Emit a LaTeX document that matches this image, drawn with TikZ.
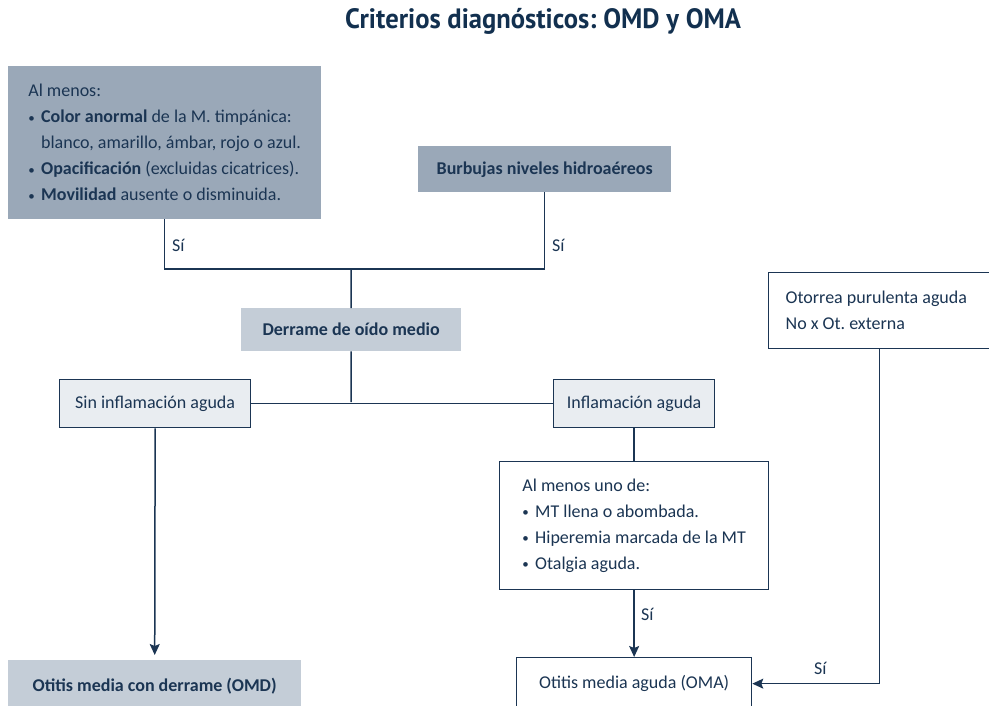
\documentclass[tikz,border=0pt]{standalone}
\usepackage{fontspec}
\setmainfont{Carlito}
\newfontfamily\titlefont{PT Sans}[FakeStretch=0.95]
\usepackage{tikz}
\usetikzlibrary{arrows.meta}
\definecolor{navyx}{HTML}{1B3553}
\definecolor{titlex}{HTML}{12304F}
\definecolor{boxdark}{HTML}{9AA8B8}
\definecolor{boxlight}{HTML}{C4CDD7}
\definecolor{boxpale}{HTML}{E9EDF1}
\tikzset{
  ln/.style={line width=1.5pt,navyx},
  ar/.style={ln,-{Stealth[length=11pt,width=10pt,inset=2pt]}},
  cbox/.style={anchor=north west,align=left,inner sep=0pt,text=navyx},
  darkbox/.style={cbox,fill=boxdark},
  lightbox/.style={cbox,fill=boxlight},
  palebox/.style={cbox,fill=boxpale,draw=navyx,line width=1.3pt},
  openbox/.style={cbox,fill=white,draw=navyx,line width=1.3pt},
  lab/.style={anchor=west,inner sep=0pt,text=navyx}
}
\newcommand\bul{\raisebox{0.1ex}{\fontsize{13}{13}\selectfont\textbullet}\hspace{0.35em}}
\frenchspacing

\begin{document}
\begin{tikzpicture}[x=1pt,y=-1pt,font=\fontsize{18}{26}\selectfont]
\path[use as bounding box] (0,0) rectangle (989,705);
\clip (0,0) rectangle (989,705);
\node[font=\titlefont\bfseries\fontsize{28}{30}\selectfont,text=titlex] (titulo) at (543,21) {Criterios diagnósticos: OMD y OMA};
% criterios de derrame
\node[darkbox,minimum width=313pt,minimum height=153pt] (crit) at (8,66) {Al menos:\\\bul\textbf{Color anormal} de la M. timpánica:\\\phantom{\bul}blanco, amarillo, ámbar, rojo o azul.\\\bul\textbf{Opacificación} (excluidas cicatrices).\\\bul\textbf{Movilidad} ausente o disminuida.};
\node[darkbox,minimum width=253pt,minimum height=46pt] (burb) at (418,146) {\textbf{Burbujas niveles hidroaéreos}};
\node[lightbox,minimum width=220pt,minimum height=43pt] (derr) at (241,308) {\textbf{Derrame de oído medio}};
\node[palebox,minimum width=191pt,minimum height=48pt] (sinf) at (59,379) {Sin inflamación aguda};
\node[palebox,minimum width=161pt,minimum height=48pt] (infl) at (553,379) {Inflamación aguda};
\node[openbox,minimum width=269pt,minimum height=128pt] (alme) at (499,461) {Al menos uno de:\\\bul MT llena o abombada.\\\bul Hiperemia marcada de la MT\\\bul Otalgia aguda.};
\node[openbox,align=flush left,inner xsep=17pt,text width=188pt,minimum height=76pt] (otor) at (768,272) {Otorrea purulenta aguda\\No x Ot. externa};
% diagnosticos
\node[lightbox,minimum width=293pt,minimum height=52pt] (omd) at (8,660) {\textbf{Otitis media con derrame (OMD)}};
\node[openbox,minimum width=235pt,minimum height=52pt] (oma) at (516,657) {Otitis media aguda (OMA)};
% conectores
\coordinate (jtop) at (351,269);
\coordinate (jmid) at (351,402);
\draw[ln] (crit.south) |- (jtop) -| (burb.south);
\draw[ln] (jtop) -- (derr.north);
\draw[ln] (derr.south) -- (jmid);
\draw[ln] (sinf.east) -- (infl.west);
\draw[ar,shorten >=5pt] (sinf.south) -- (omd.north);
\draw[ln] (infl.south) -- (alme.north);
\draw[ar] (alme.south) -- (oma.north);
\draw[ar] (otor.south) |- (oma.east);
\node[lab] (si1) at (172,245) {Sí};
\node[lab] (si2) at (552,245) {Sí};
\node[lab] (si3) at (641,614) {Sí};
\node[lab] (si4) at (814,668) {Sí};
\end{tikzpicture}
\end{document}
